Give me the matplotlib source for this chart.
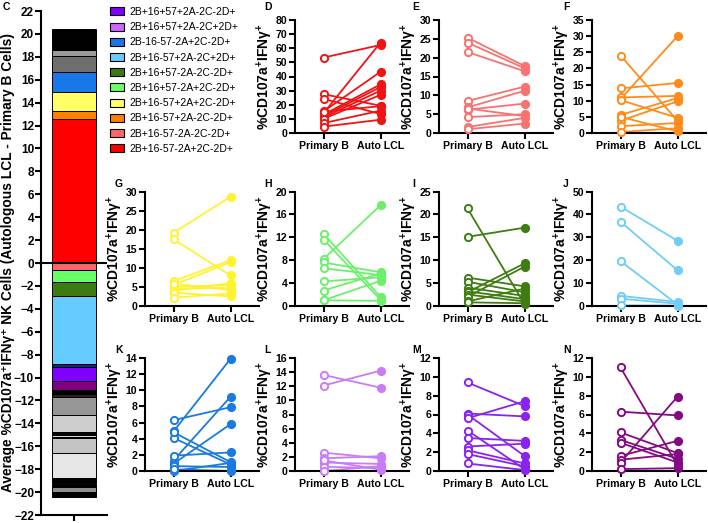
import numpy as np
import matplotlib.pyplot as plt
from matplotlib.patches import Patch

plt.rcParams['font.family'] = ['Liberation Sans', 'DejaVu Sans']
plt.rcParams['mathtext.fontset'] = 'custom'
plt.rcParams['mathtext.rm'] = 'Liberation Sans'
plt.rcParams['mathtext.bf'] = 'Liberation Sans:bold'
plt.rcParams['mathtext.default'] = 'bf'

# ---- panel C: stacked average bar ----
pos_vals = [12.55, 0.73, 1.62, 1.81, 1.37, 0.52,
            0.14, 0.10, 0.16, 0.08, 0.12, 0.10, 0.14, 0.09, 0.13, 0.10, 0.15, 0.12, 0.38]
pos_cols = ['#ff0000', '#ff8000', '#ffff66', '#1878e8', '#6e6e6e', '#9a9a9a',
            '#000000', '#505050', '#000000', '#7a7a7a', '#111111', '#404040', '#000000',
            '#8c8c8c', '#000000', '#5a5a5a', '#000000', '#303030', '#000000']
neg_vals = [0.61, 1.02, 1.25, 5.97, 0.20, 1.23, 0.82,
            0.12, 0.10, 0.12, 0.23, 1.63, 1.43,
            0.12, 0.10, 0.10, 0.12, 0.13, 1.26, 2.24,
            0.20, 0.10, 0.15, 0.10, 0.19, 0.43, 0.43]
neg_cols = ['#ff6666', '#66ff66', '#3d7a0f', '#66ccff', '#0c2a7a', '#8000ff', '#800080',
            '#000000', '#444444', '#000000', '#222222', '#969696', '#cdcdcd',
            '#000000', '#bbbbbb', '#000000', '#d9d9d9', '#000000', '#c3c3c3', '#e6e6e6',
            '#000000', '#555555', '#000000', '#333333', '#000000', '#8f8f8f', '#000000']

legend_labels = ['2B+16+57+2A-2C-2D+', '2B+16+57+2A-2C+2D+', '2B-16-57-2A+2C-2D+',
                 '2B+16-57+2A-2C+2D+', '2B+16+57-2A-2C-2D+', '2B+16+57-2A+2C-2D+',
                 '2B+16-57+2A+2C-2D+', '2B+16-57+2A-2C-2D+', '2B+16-57-2A-2C-2D+',
                 '2B+16-57-2A+2C-2D+']
legend_cols = ['#8000ff', '#cc66ff', '#1878e8', '#66ccff', '#3d7a0f', '#66ff66',
               '#ffff66', '#ff8000', '#ff6666', '#ff0000']

# ---- paired panels (Primary B -> Auto LCL) ----
D_pre = [53.4, 14.0, 27.5, 24.2, 15.3, 13.0, 12.0, 11.0, 10.0, 15.0, 7.0, 4.5]
D_post = [62.3, 64.0, 19.3, 13.4, 43.3, 34.4, 32.5, 30.0, 27.0, 19.0, 15.8, 9.4]
E_pre = [25.3, 24.0, 21.5, 8.5, 6.8, 6.2, 6.5, 4.2, 1.6, 1.0]
E_post = [17.8, 17.2, 16.4, 12.3, 11.2, 7.8, 4.5, 5.0, 4.0, 2.5]
F_pre = [24.0, 10.5, 13.8, 11.0, 10.2, 5.6, 3.8, 2.1, 0.3, 5.0]
F_post = [3.8, 30.0, 15.5, 11.5, 4.7, 10.8, 9.8, 3.1, 1.5, 0.5]
G_pre = [19.2, 17.5, 6.5, 5.5, 5.0, 4.5, 4.0, 3.5, 2.2, 5.8]
G_post = [28.6, 8.0, 12.0, 11.5, 5.5, 4.8, 6.0, 2.5, 3.3, 4.2]
H_pre = [12.6, 11.6, 8.2, 7.6, 6.6, 4.3, 2.7, 1.0, 1.0]
H_post = [1.6, 1.1, 17.6, 5.9, 5.4, 5.0, 5.7, 4.4, 0.9]
I_pre = [21.3, 15.1, 6.2, 5.3, 4.0, 3.2, 3.0, 2.5, 2.0, 1.0, 0.8]
I_post = [0.4, 17.1, 4.3, 3.0, 2.2, 1.5, 9.3, 1.0, 8.6, 3.8, 0.6]
J_pre = [43.4, 36.8, 19.6, 4.4, 3.2, 0.3]
J_post = [28.5, 15.6, 0.6, 1.8, 1.0, 0.2]
K_pre = [4.9, 6.3, 4.1, 4.8, 1.3, 0.9, 1.9, 0.6, 0.0, 0.2]
K_post = [13.9, 7.9, 0.8, 1.1, 9.2, 5.8, 2.3, 0.5, 1.0, 0.0]
L_pre = [13.6, 12.1, 2.6, 1.8, 1.2, 0.6, 0.0, 1.5]
L_post = [11.8, 14.2, 1.8, 2.1, 1.0, 0.4, 0.7, 0.2]
M_pre = [9.4, 6.1, 6.0, 5.6, 4.3, 3.5, 2.6, 2.2, 1.8, 0.8]
M_post = [6.9, 5.8, 1.6, 7.4, 0.2, 3.2, 2.9, 0.8, 0.5, 0.1]
N_pre = [11.0, 6.3, 4.1, 3.3, 3.0, 1.6, 1.2, 0.9, 0.2]
N_post = [0.6, 5.9, 1.9, 1.3, 0.9, 3.2, 1.8, 7.9, 0.3]

groups = ['Primary B', 'Auto LCL']
ylab = r'%CD107a$^{+}$IFN$\gamma^{+}$'

W, H = 708, 523
fig = plt.figure(figsize=(W / 100, H / 100), dpi=100)


def px_axes(left, top, right, bottom):
    return fig.add_axes([left / W, 1 - bottom / H, (right - left) / W, (bottom - top) / H])


# panel C
axC = px_axes(41, 11, 107, 515)
base = 0.0
for v, c in zip(pos_vals, pos_cols):
    axC.bar(0, v, bottom=base, width=1.02, color=c, edgecolor='black', linewidth=0.7)
    base += v
base = 0.0
for v, c in zip(neg_vals, neg_cols):
    axC.bar(0, -v, bottom=base, width=1.02, color=c, edgecolor='black', linewidth=0.7)
    base -= v
axC.axhline(0, color='black', lw=1.5)
axC.set_xlim(-0.75, 0.75)
axC.set_ylim(-22, 22)
axC.set_yticks(np.arange(-22, 23, 2))
axC.set_xticks([0])
axC.set_xticklabels([''])
for s in ['top', 'right']:
    axC.spines[s].set_visible(False)
for s in ['left', 'bottom']:
    axC.spines[s].set_linewidth(1.5)
axC.tick_params(direction='out', length=4, width=1.5, labelsize=8.5, pad=1)
for t in axC.get_yticklabels():
    t.set_fontweight('bold')
axC.set_ylabel('Average %CD107a\u207aIFN\u03b3\u207a NK Cells (Autologous LCL - Primary B Cells)',
               fontsize=9.9, fontweight='bold')
axC.yaxis.set_label_coords(-0.39, 0.5)
fig.text(3 / W, 1 - 7 / H, 'C', fontsize=7.5, fontweight='bold', ha='left', va='center')

handles = [Patch(facecolor=c, edgecolor='black', linewidth=0.8) for c in legend_cols]
fig.legend(handles, legend_labels, loc='upper left', bbox_to_anchor=(110 / W, 1 - 7 / H),
           frameon=False, fontsize=7.5, handlelength=1.3, handleheight=0.8,
           handletextpad=0.6, labelspacing=0.5, borderaxespad=0, borderpad=0)

cols_x = [145, 295, 439, 592]
rows_y = [(20, 133), (191.5, 306), (358, 471)]
panels = [
    ('D', D_pre, D_post, '#f01414', 80, 10, 0, 1),
    ('E', E_pre, E_post, '#f87272', 30, 5, 0, 2),
    ('F', F_pre, F_post, '#ff8c1a', 35, 5, 0, 3),
    ('G', G_pre, G_post, '#fff230', 30, 5, 1, 0),
    ('H', H_pre, H_post, '#6cf06c', 20, 4, 1, 1),
    ('I', I_pre, I_post, '#3f7d12', 25, 5, 1, 2),
    ('J', J_pre, J_post, '#70cdf5', 50, 10, 1, 3),
    ('K', K_pre, K_post, '#1a7ae0', 14, 2, 2, 0),
    ('L', L_pre, L_post, '#c97cf7', 16, 2, 2, 1),
    ('M', M_pre, M_post, '#8a22f0', 12, 2, 2, 2),
    ('N', N_pre, N_post, '#840a84', 12, 2, 2, 3),
]

for letter, pre, post, col, ymax, step, r, c in panels:
    x0 = cols_x[c]
    top, bot = rows_y[r]
    ax = px_axes(x0, top, x0 + 114, bot)
    for a, b in zip(pre, post):
        ax.plot([0, 1], [a, b], color=col, lw=1.3, zorder=2, clip_on=False)
    ax.plot(np.zeros(len(pre)), pre, 'o', ms=5.2, mfc='white', mec=col, mew=1.4,
            zorder=3, clip_on=False)
    ax.plot(np.ones(len(post)), post, 'o', ms=5.2, mfc=col, mec=col, mew=1.4,
            zorder=3, clip_on=False)
    ax.set_xlim(-0.5, 1.5)
    ax.set_ylim(0, ymax)
    ax.set_yticks(np.arange(0, ymax + 0.1, step))
    ax.set_xticks([0, 1])
    ax.set_xticklabels(groups)
    for s in ['top', 'right']:
        ax.spines[s].set_visible(False)
    for s in ['left', 'bottom']:
        ax.spines[s].set_linewidth(1.5)
    ax.tick_params(direction='out', length=4, width=1.5, labelsize=7.6, pad=1.5)
    for t in ax.get_yticklabels() + ax.get_xticklabels():
        t.set_fontweight('bold')
    ax.set_ylabel(ylab, fontsize=10, fontweight='bold')
    ax.yaxis.set_label_coords(-0.175, 0.5)
    lx = {0: 115, 1: 264, 2: 412, 3: 563}[c]
    ly = {0: 7, 1: 184, 2: 350}[r]
    fig.text(lx / W, 1 - ly / H, letter, fontsize=7.5, fontweight='bold', ha='left', va='center')

fig.savefig('out.png', dpi=100)
